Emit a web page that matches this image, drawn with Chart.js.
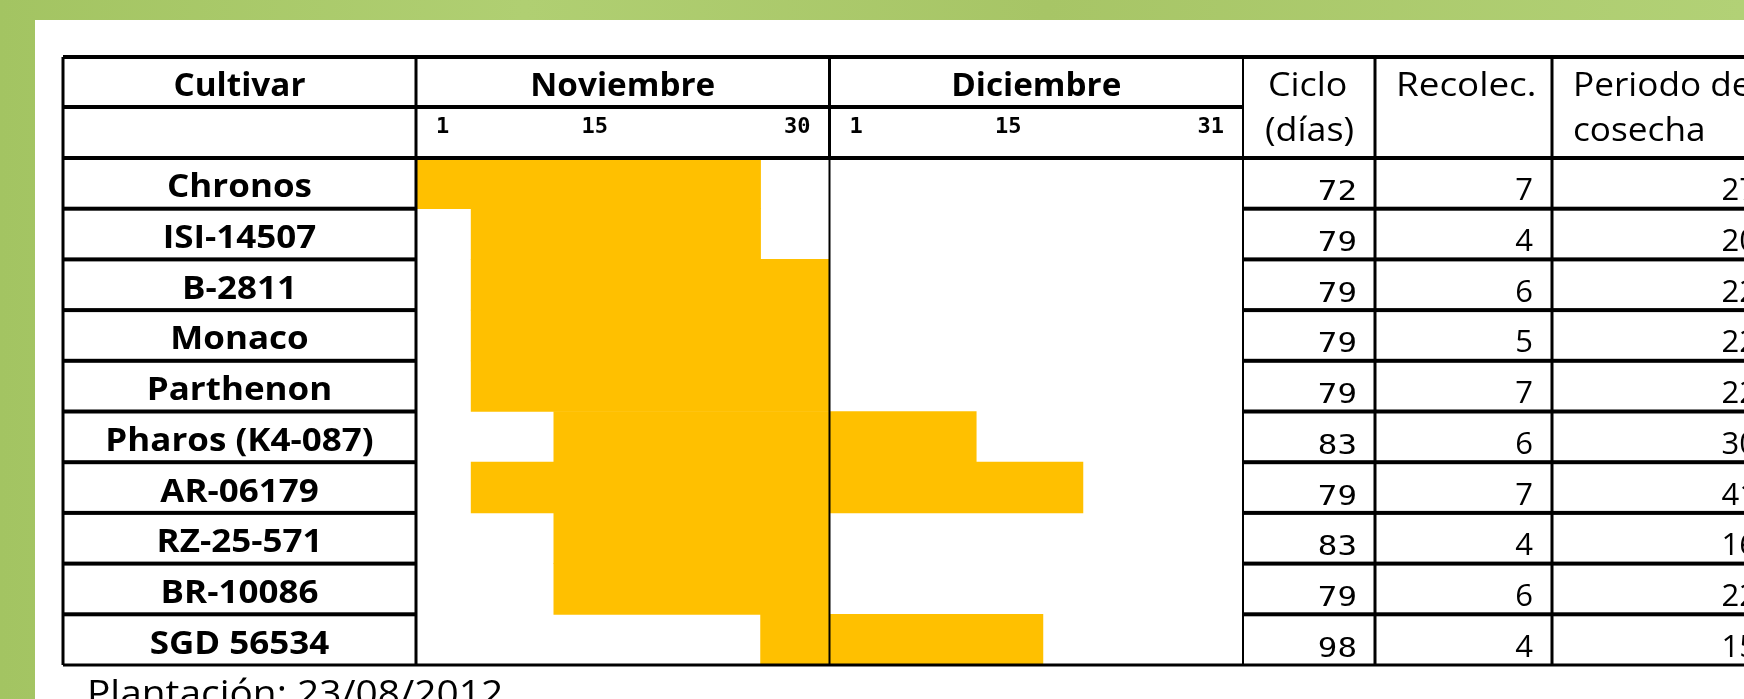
<!DOCTYPE html>
<html>
<head>
<meta charset="utf-8">
<script src="https://cdn.jsdelivr.net/npm/chart.js@4.4.1/dist/chart.umd.min.js"></script>
<style>
  html,body{margin:0;padding:0;background:#a9c86a;overflow:hidden}
  #wrap{width:1744px;height:699px;position:relative}
</style>
</head>
<body>
<div id="wrap"><canvas id="cal" width="1744" height="699"></canvas></div>
<script>
// ── datos de la tabla ──
const cultivars = ['Chronos','ISI-14507','B-2811','Monaco','Parthenon','Pharos (K4-087)','AR-06179','RZ-25-571','BR-10086','SGD 56534'];
// día de inicio / fin de recolección, contando desde el 1 de noviembre (1..30 nov, 31..61 dic)
const startDay = [1, 5, 5, 5, 5, 11, 5, 11, 11, 26];
const endDay   = [25, 25, 30, 30, 30, 41, 49, 30, 30, 46];
const ciclo    = [72, 79, 79, 79, 79, 83, 79, 83, 79, 98];
const recolec  = [7, 4, 6, 5, 7, 6, 7, 4, 6, 4];
const periodo  = [27, 20, 22, 22, 22, 30, 41, 16, 22, 15];
const months   = ['Noviembre','Diciembre'];
const monthDays = [30, 31];
const dayTicks = [[1,15,30],[1,15,31]];

// día (elapsed) -> posición en meses (cada mes ocupa 1 unidad)
function toPos(elapsed){
  if(elapsed <= monthDays[0]) return elapsed / monthDays[0];
  return 1 + (elapsed - monthDays[0]) / monthDays[1];
}
const ranges = cultivars.map((c,i)=>[toPos(startDay[i]-1), toPos(endDay[i])]);

const SANS = '"Open Sans", "DejaVu Sans", sans-serif';
const MONO = '"DejaVu Sans Mono", monospace';

function txt(ctx, s, x, y, font, align, sx){
  ctx.save();
  ctx.font = font;
  ctx.fillStyle = '#000';
  ctx.textBaseline = 'alphabetic';
  ctx.textAlign = align || 'left';
  ctx.translate(x, y);
  ctx.scale(sx || 1, 1);   // el original está algo estirado en horizontal
  ctx.fillText(s, 0, 0);
  ctx.restore();
}
function hline(ctx, x1, x2, y, w){ ctx.fillRect(x1, y - w/2, x2 - x1, w); }
function vline(ctx, x, y1, y2, w){ ctx.fillRect(x - w/2, y1, w, y2 - y1); }

const TABLE = { left:63, top:57, head1:107, colCiclo:1375, colRecolec:1552 };

const tablePlugin = {
  id:'tabla',
  beforeDraw(chart){
    const {ctx, width, height} = chart;
    ctx.save();
    const g = ctx.createLinearGradient(0, 0, width, 0);
    g.addColorStop(0, '#a3c462'); g.addColorStop(0.3, '#b0cf72'); g.addColorStop(0.6, '#a7c566'); g.addColorStop(1, '#b2d176');
    ctx.fillStyle = g; ctx.fillRect(0, 0, width, height);
    ctx.fillStyle = '#fff'; ctx.fillRect(35, 20, width - 35, height - 20);
    ctx.restore();
  },
  afterDraw(chart){
    const {ctx, chartArea:a, width} = chart;
    const xs = chart.scales.x, ys = chart.scales.y;
    const midX = xs.getPixelForValue(1);
    const rowH = (a.bottom - a.top) / cultivars.length;
    const T = TABLE;
    ctx.save();
    ctx.fillStyle = '#000';
    // bordes horizontales
    hline(ctx, T.left, width, T.top, 4);
    hline(ctx, T.left, a.right, T.head1, 4);
    hline(ctx, T.left, width, a.top, 4);
    hline(ctx, T.left, width, a.bottom, 3);
    for(let i=1;i<cultivars.length;i++){
      const y = a.top + i*rowH;
      hline(ctx, T.left, a.left, y, 4);
      hline(ctx, a.right, width, y, 4);
    }
    // bordes verticales
    vline(ctx, T.left, T.top, a.bottom, 3);
    vline(ctx, a.left, T.top, a.bottom, 3);
    vline(ctx, midX, T.top, a.top, 3);
    vline(ctx, midX, a.top, a.bottom, 2);
    vline(ctx, a.right, T.top, a.bottom, 2);
    vline(ctx, T.colCiclo, T.top, a.bottom, 3);
    vline(ctx, T.colRecolec, T.top, a.bottom, 3);

    // cabecera
    const bold = 'bold 32px ' + SANS, reg = '32px ' + SANS;
    txt(ctx, 'Cultivar', (T.left + a.left)/2, 96, bold, 'center', 1.04);
    months.forEach((m, mi)=>{
      const x0 = xs.getPixelForValue(mi), x1 = xs.getPixelForValue(mi+1);
      txt(ctx, m, (x0 + x1)/2, 96, bold, 'center', 1.04);
      const tf = 'bold 22px ' + MONO;
      const t = dayTicks[mi];
      txt(ctx, String(t[0]), x0 + 20, 133, tf, 'left');
      txt(ctx, String(t[1]), (x0 + x1)/2 - 28, 133, tf, 'center');
      txt(ctx, String(t[2]), x1 - 19, 133, tf, 'right');
    });
    txt(ctx, 'Ciclo', a.right + 25, 96, reg, 'left', 1.12);
    txt(ctx, '(días)', a.right + 22, 141, reg, 'left', 1.12);
    txt(ctx, 'Recolec.', T.colCiclo + 21, 96, reg, 'left', 1.15);
    txt(ctx, 'Periodo de', T.colRecolec + 21, 96, reg, 'left', 1.1);
    txt(ctx, 'cosecha', T.colRecolec + 21, 141, reg, 'left', 1.1);

    // filas
    cultivars.forEach((c, i)=>{
      const cy = ys.getPixelForValue(i);
      txt(ctx, c, (T.left + a.left)/2, cy + 14, 'bold 33px ' + SANS, 'center', 1.06);
      txt(ctx, String(ciclo[i]), T.colCiclo - 18, cy + 17, '26px ' + MONO, 'right', 1.25);
      txt(ctx, String(recolec[i]), T.colRecolec - 19, cy + 17, '31px ' + SANS, 'right');
      txt(ctx, String(periodo[i]), 1757, cy + 17, '31px ' + SANS, 'right');
    });

    txt(ctx, 'Plantación: 23/08/2012', 87, 706, '37px ' + SANS, 'left', 1.05);
    ctx.restore();
  }
};

new Chart(document.getElementById('cal'), {
  type:'bar',
  data:{
    labels: cultivars,
    datasets:[{ label:'Recolección', data: ranges, backgroundColor:'#FFC000', borderWidth:0, barPercentage:1, categoryPercentage:1 }]
  },
  options:{
    indexAxis:'y',
    responsive:false, animation:false,
    layout:{ padding:{ left:416, right:501, top:158, bottom:34 } },
    scales:{
      x:{ type:'linear', min:0, max:2, display:false },
      y:{ display:false }
    },
    plugins:{ legend:{display:false}, tooltip:{enabled:false} }
  },
  plugins:[tablePlugin]
});
</script>
</body>
</html>
